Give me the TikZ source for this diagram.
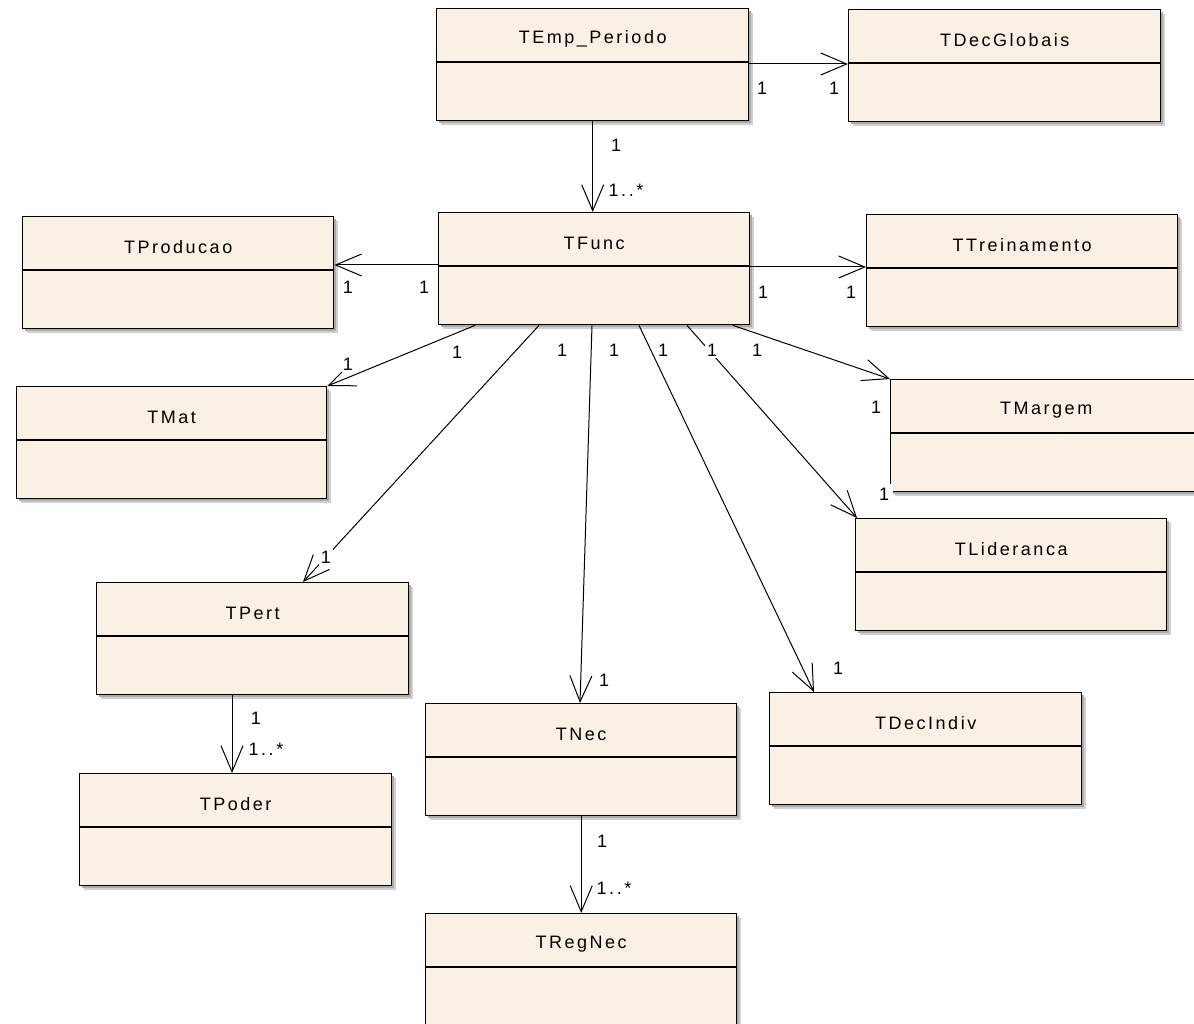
\documentclass[tikz,border=0pt]{standalone}
\usepackage{fontspec}
\newfontfamily\umlfont{Liberation Sans}[LetterSpace=14]
\usetikzlibrary{arrows.meta}

\definecolor{classfill}{RGB}{250,240,227}
\definecolor{shadowgray}{RGB}{150,150,150}

\tikzset{
  classbox/.style={draw=black, line width=1.4pt, fill=classfill, rectangle,
    inner sep=0pt, anchor=north west},
  compline/.style={draw=black, line width=1.2pt},
  classname/.style={font=\umlfont\fontsize{18}{20}\selectfont, inner sep=0pt},
  mult/.style={font=\umlfont\fontsize{18}{20}\selectfont, fill=white, inner sep=2pt},
  assoc/.style={draw=black, line width=1pt,
    -{Straight Barb[length=26pt, width=22pt, line width=1pt]}},
}

% UML class: name, left, top, width, title
\newcommand\umlclass[5]{%
  \fill[shadowgray!45] (#2+5,#3+5) rectangle ++(#4,112);
  \fill[shadowgray!80] (#2+3,#3+3) rectangle ++(#4,112);
  \node[classbox, minimum width=#4pt, minimum height=112pt] (#1) at (#2,#3) {};
  \draw[compline] ([yshift=-54pt]#1.north west) -- ([yshift=-54pt]#1.north east);
  \node[classname] (#1-name) at ([yshift=-31pt]#1.north) {#5};
}

\begin{document}
\begin{tikzpicture}[x=1pt, y=-1pt]
  \clip (0,0) rectangle (1194,1024);
  \fill[white] (0,0) rectangle (1194,1024);

  % classes
  \umlclass{temp}{436}{8}{312}{TEmp\_Periodo}
  \umlclass{tdg}{848}{9}{312}{TDecGlobais}
  \umlclass{tfunc}{438}{212}{311}{TFunc}
  \umlclass{tprod}{22}{216}{311}{TProducao}
  \umlclass{ttrein}{866}{214}{311}{TTreinamento}
  \umlclass{tmat}{16}{386}{310}{TMat}
  \umlclass{tmarg}{890}{379}{311}{TMargem}
  \umlclass{tlid}{855}{518}{311}{TLideranca}
  \umlclass{tpert}{96}{582}{312}{TPert}
  \umlclass{tpoder}{79}{773}{312}{TPoder}
  \umlclass{tnec}{425}{703}{311}{TNec}
  \umlclass{tdi}{769}{692}{312}{TDecIndiv}
  \umlclass{tregnec}{425}{913}{311}{TRegNec}

  % associations
  \draw[assoc] (temp.south) -- (temp.south |- tfunc.north);
  \draw[assoc] ([yshift=-56pt]temp.north east) -- ([yshift=-55pt]tdg.north west);
  \draw[assoc] ([yshift=-53pt]tfunc.north west) -- ([yshift=-49pt]tprod.north east);
  \draw[assoc] ([yshift=-55pt]tfunc.north east) -- ([yshift=-53pt]ttrein.north west);
  \draw[assoc] ([xshift=37pt]tfunc.south west) -- (tmat.north east);
  \draw[assoc] ([xshift=101pt]tfunc.south west) -- ([xshift=207pt]tpert.north west);
  \draw[assoc] ([xshift=154pt]tfunc.south west) -- ([xshift=155pt]tnec.north west);
  \draw[assoc] ([xshift=201pt]tfunc.south west) -- ([xshift=45pt]tdi.north west);
  \draw[assoc] ([xshift=249pt]tfunc.south west) -- ([xshift=2pt]tlid.north west);
  \draw[assoc] ([xshift=295pt]tfunc.south west) -- (tmarg.north west);
  \draw[assoc] ([xshift=136pt]tpert.south west) -- ([xshift=153pt]tpoder.north west);
  \draw[assoc] (tnec.south) -- (tnec.south |- tregnec.north);

  % multiplicities
  \node[mult] (m1)  at (616,145) {1};
  \node[mult] (m2)  at (626,190) {1..*};
  \node[mult] (m3)  at (762,88)  {1};
  \node[mult] (m4)  at (834,88)  {1};
  \node[mult] (m5)  at (424,287) {1};
  \node[mult] (m6)  at (348,287) {1};
  \node[mult] (m7)  at (763,292) {1};
  \node[mult] (m8)  at (851,292) {1};
  \node[mult] (m9)  at (457,352) {1};
  \node[mult] (m10) at (348,364) {1};
  \node[mult] (m11) at (562,350) {1};
  \node[mult] (m12) at (326,557) {1};
  \node[mult] (m13) at (614,350) {1};
  \node[mult] (m14) at (604,680) {1};
  \node[mult] (m15) at (663,350) {1};
  \node[mult] (m16) at (838,668) {1};
  \node[mult] (m17) at (712,350) {1};
  \node[mult, inner sep=4pt] (m18) at (884,494) {1};
  \node[mult] (m19) at (757,350) {1};
  \node[mult] (m20) at (876,407) {1};
  \node[mult] (m21) at (256,718) {1};
  \node[mult] (m22) at (266,749) {1..*};
  \node[mult] (m23) at (602,841) {1};
  \node[mult] (m24) at (614,888) {1..*};
\end{tikzpicture}
\end{document}
